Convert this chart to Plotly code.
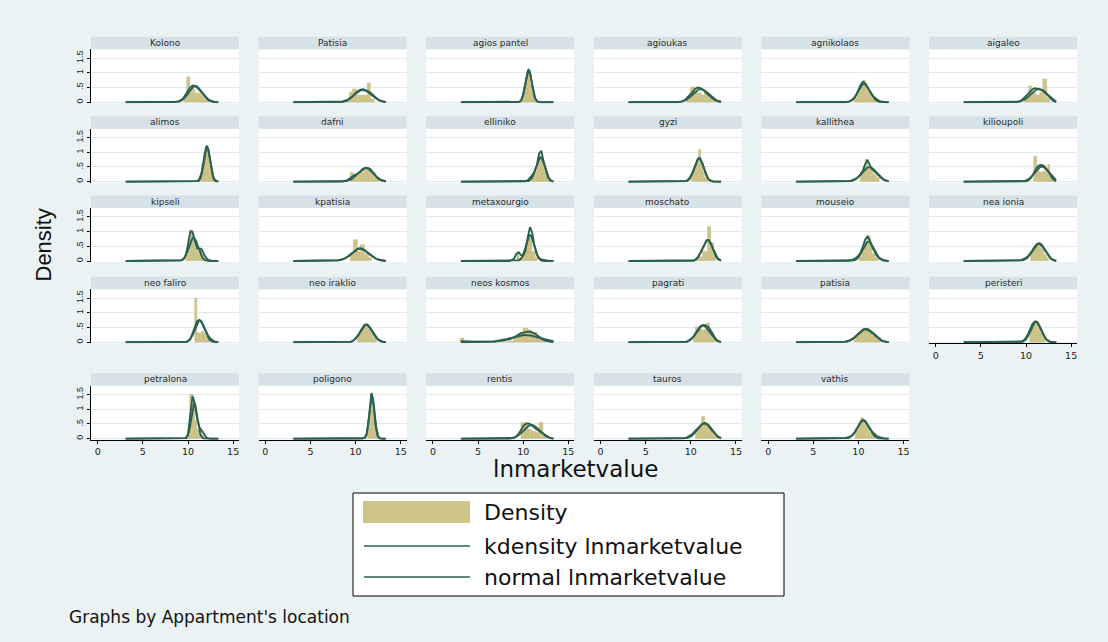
import numpy as np
import plotly.graph_objects as go

# ---------------------------------------------------------------- data
locations = [
    "Kolono", "Patisia", "agios pantel", "agioukas", "agnikolaos", "aigaleo",
    "alimos", "dafni", "elliniko", "gyzi", "kallithea", "kilioupoli",
    "kipseli", "kpatisia", "metaxourgio", "moschato", "mouseio", "nea ionia",
    "neo faliro", "neo iraklio", "neos kosmos", "pagrati", "patisia", "peristeri",
    "petralona", "poligono", "rentis", "tauros", "vathis",
]

# evaluation points of the kernel density estimate (lnmarketvalue)
kde_x = [3.1, 5.0, 7.0, 8.0, 8.5, 9.0, 9.25, 9.5, 9.75, 10.0, 10.25, 10.5,
         10.75, 11.0, 11.25, 11.5, 11.75, 12.0, 12.25, 12.5, 12.75, 13.0, 13.35]

kde_density = [
    [0, 0, 0, 0, 0.01, 0.04, 0.08, 0.15, 0.26, 0.40, 0.51, 0.57, 0.56, 0.50, 0.42, 0.33, 0.24, 0.16, 0.10, 0.06, 0.03, 0.01, 0],
    [0, 0, 0, 0, 0.01, 0.05, 0.09, 0.15, 0.23, 0.31, 0.38, 0.42, 0.44, 0.43, 0.40, 0.36, 0.30, 0.22, 0.15, 0.09, 0.05, 0.02, 0],
    [0, 0, 0, 0, 0, 0, 0, 0.01, 0.05, 0.25, 0.65, 1.05, 1.00, 0.55, 0.18, 0.04, 0.01, 0, 0, 0, 0, 0, 0],
    [0, 0, 0, 0, 0, 0.03, 0.06, 0.12, 0.20, 0.30, 0.39, 0.46, 0.50, 0.49, 0.45, 0.39, 0.32, 0.24, 0.17, 0.11, 0.06, 0.03, 0.01],
    [0, 0, 0, 0, 0, 0.03, 0.06, 0.12, 0.24, 0.42, 0.60, 0.70, 0.65, 0.52, 0.38, 0.26, 0.17, 0.10, 0.06, 0.03, 0.01, 0, 0],
    [0, 0, 0, 0, 0, 0.01, 0.03, 0.07, 0.14, 0.22, 0.30, 0.38, 0.45, 0.48, 0.47, 0.44, 0.42, 0.38, 0.30, 0.21, 0.12, 0.05, 0.01],
    [0, 0, 0, 0, 0, 0, 0, 0, 0, 0, 0, 0, 0, 0.02, 0.08, 0.30, 0.75, 1.18, 1.10, 0.60, 0.20, 0.05, 0],
    [0, 0, 0, 0, 0, 0.04, 0.08, 0.14, 0.20, 0.24, 0.27, 0.32, 0.39, 0.45, 0.47, 0.45, 0.38, 0.28, 0.18, 0.10, 0.05, 0.02, 0],
    [0, 0, 0, 0, 0, 0, 0, 0, 0, 0, 0.01, 0.05, 0.12, 0.22, 0.35, 0.55, 0.95, 1.05, 0.70, 0.38, 0.15, 0.04, 0],
    [0, 0, 0, 0, 0, 0, 0, 0.02, 0.08, 0.20, 0.37, 0.58, 0.76, 0.80, 0.66, 0.42, 0.20, 0.07, 0.02, 0, 0, 0, 0],
    [0, 0, 0, 0, 0, 0.02, 0.04, 0.07, 0.11, 0.17, 0.25, 0.38, 0.60, 0.74, 0.55, 0.42, 0.36, 0.28, 0.20, 0.13, 0.08, 0.04, 0.01],
    [0, 0, 0, 0, 0, 0, 0, 0, 0, 0.01, 0.04, 0.11, 0.23, 0.38, 0.50, 0.56, 0.57, 0.53, 0.45, 0.34, 0.20, 0.08, 0.01],
    [0, 0, 0, 0, 0, 0.01, 0.02, 0.06, 0.20, 0.55, 1.00, 0.98, 0.70, 0.42, 0.42, 0.40, 0.24, 0.10, 0.04, 0.01, 0, 0, 0],
    [0, 0, 0, 0.02, 0.05, 0.11, 0.16, 0.23, 0.30, 0.37, 0.42, 0.43, 0.41, 0.36, 0.30, 0.23, 0.17, 0.12, 0.08, 0.05, 0.03, 0.01, 0],
    [0, 0, 0, 0, 0, 0.08, 0.25, 0.30, 0.20, 0.18, 0.35, 0.80, 1.15, 0.95, 0.50, 0.22, 0.10, 0.05, 0.03, 0.02, 0.01, 0, 0],
    [0, 0, 0, 0, 0, 0, 0, 0, 0, 0, 0.01, 0.04, 0.12, 0.25, 0.40, 0.57, 0.70, 0.71, 0.58, 0.38, 0.18, 0.06, 0.01],
    [0, 0, 0, 0, 0, 0.01, 0.03, 0.06, 0.11, 0.18, 0.30, 0.50, 0.72, 0.83, 0.72, 0.50, 0.33, 0.20, 0.12, 0.07, 0.04, 0.02, 0],
    [0, 0, 0, 0, 0, 0.01, 0.02, 0.04, 0.07, 0.11, 0.17, 0.26, 0.38, 0.50, 0.58, 0.60, 0.55, 0.43, 0.30, 0.18, 0.09, 0.03, 0],
    [0, 0, 0, 0, 0, 0, 0, 0, 0.01, 0.04, 0.12, 0.30, 0.55, 0.72, 0.76, 0.68, 0.52, 0.36, 0.22, 0.12, 0.06, 0.02, 0],
    [0, 0, 0, 0, 0, 0, 0, 0.02, 0.06, 0.13, 0.23, 0.36, 0.50, 0.60, 0.60, 0.52, 0.40, 0.27, 0.17, 0.09, 0.05, 0.02, 0],
    [0.04, 0.02, 0.03, 0.06, 0.10, 0.17, 0.22, 0.27, 0.31, 0.33, 0.35, 0.36, 0.36, 0.34, 0.30, 0.25, 0.19, 0.13, 0.08, 0.05, 0.03, 0.01, 0],
    [0, 0, 0, 0, 0, 0, 0, 0.02, 0.05, 0.10, 0.18, 0.30, 0.44, 0.53, 0.58, 0.59, 0.56, 0.50, 0.38, 0.24, 0.12, 0.05, 0.01],
    [0, 0, 0, 0, 0.02, 0.06, 0.10, 0.15, 0.22, 0.30, 0.37, 0.43, 0.45, 0.43, 0.38, 0.31, 0.24, 0.17, 0.11, 0.06, 0.03, 0.01, 0],
    [0, 0, 0, 0, 0, 0, 0, 0.02, 0.07, 0.16, 0.30, 0.48, 0.64, 0.70, 0.67, 0.54, 0.37, 0.21, 0.10, 0.04, 0.01, 0, 0],
    [0, 0, 0, 0, 0, 0, 0, 0, 0.02, 0.15, 0.75, 1.45, 1.20, 0.70, 0.40, 0.30, 0.18, 0.05, 0.01, 0, 0, 0, 0],
    [0, 0, 0, 0, 0, 0, 0, 0, 0, 0, 0, 0, 0, 0.03, 0.20, 0.80, 1.55, 1.20, 0.45, 0.08, 0.01, 0, 0],
    [0, 0, 0, 0, 0, 0.03, 0.08, 0.17, 0.30, 0.42, 0.50, 0.52, 0.50, 0.45, 0.38, 0.31, 0.26, 0.22, 0.17, 0.11, 0.06, 0.02, 0],
    [0, 0, 0, 0, 0, 0, 0.01, 0.03, 0.07, 0.12, 0.19, 0.27, 0.36, 0.44, 0.50, 0.53, 0.51, 0.45, 0.35, 0.24, 0.14, 0.06, 0.01],
    [0, 0, 0, 0.01, 0.02, 0.06, 0.10, 0.17, 0.28, 0.42, 0.56, 0.63, 0.60, 0.50, 0.37, 0.25, 0.16, 0.10, 0.06, 0.03, 0.02, 0.01, 0],
]

# mean and standard deviation of lnmarketvalue per location (normal overlay)
normal_mean = [10.8, 10.8, 10.6, 11.1, 10.6, 11.4, 12.1, 11.1, 11.9, 10.9,
               11.2, 11.75, 10.6, 10.5, 10.75, 11.85, 11.1, 11.4, 11.3, 11.2,
               10.2, 11.35, 10.85, 11.1, 10.7, 11.8, 10.9, 11.5, 10.5]
normal_sd = [0.72, 0.95, 0.36, 0.88, 0.64, 0.88, 0.33, 0.85, 0.48, 0.50,
             0.80, 0.77, 0.50, 0.95, 0.45, 0.56, 0.60, 0.68, 0.53, 0.66,
             1.60, 0.70, 0.88, 0.56, 0.33, 0.27, 0.85, 0.76, 0.63]

# histogram: first bin edge, bin width and bar heights per location
hist_start = [9.6, 8.9, 9.8, 9.6, 9.6, 9.9, 11.4, 9.4, 11.0, 10.1,
              10.2, 10.9, 9.8, 9.4, 9.3, 10.7, 10.1, 10.5, 10.75, 10.2,
              3.0, 10.3, 9.6, 10.4, 10.0, 11.3, 9.8, 10.5, 9.7]
hist_width = [0.3, 0.4, 0.2, 0.4, 0.3, 0.4, 0.2, 0.4, 0.25, 0.25,
              0.3, 0.3, 0.25, 0.4, 0.25, 0.3, 0.3, 0.3, 0.25, 0.3,
              0.5, 0.3, 0.4, 0.25, 0.25, 0.2, 0.4, 0.35, 0.3]
hist_heights = [
    [0.15, 0.85, 0.35, 0.45, 0.3, 0.3, 0.25, 0.2, 0.1],
    [0.05, 0.35, 0.45, 0.25, 0.25, 0.25, 0.65, 0.1],
    [0.1, 0.3, 0.8, 1.0, 0.95, 0.6, 0.3, 0.1],
    [0.2, 0.5, 0.35, 0.3, 0.25, 0.3, 0.15, 0.1],
    [0.15, 0.35, 0.5, 0.76, 0.55, 0.35, 0.2, 0.1],
    [0.15, 0.55, 0.3, 0.25, 0.35, 0.77, 0.15],
    [0.2, 0.6, 1.0, 1.15, 0.9, 0.6, 0.3, 0.1],
    [0.3, 0.25, 0.25, 0.3, 0.45, 0.45, 0.3, 0.15],
    [0.2, 0.35, 0.6, 0.9, 0.8, 0.5, 0.25, 0.1],
    [0.2, 0.4, 0.6, 1.08, 0.65, 0.35, 0.15],
    [0.3, 0.5, 0.75, 0.45, 0.35, 0.25, 0.15],
    [0.85, 0.35, 0.3, 0.35, 0.45, 0.57, 0.2],
    [0.2, 0.7, 1.05, 0.75, 0.4, 0.35, 0.45, 0.2, 0.05],
    [0.2, 0.72, 0.3, 0.55, 0.25, 0.1],
    [0.25, 0.1, 0.1, 0.3, 0.65, 0.9, 0.75, 0.3, 0.1],
    [0.1, 0.15, 0.35, 0.3, 1.17, 0.6, 0.2],
    [0.15, 0.3, 0.6, 0.85, 0.5, 0.25, 0.1],
    [0.3, 0.45, 0.55, 0.6, 0.4, 0.2, 0.1],
    [1.49, 0.3, 0.3, 0.36, 0.3, 0.2, 0.1],
    [0.25, 0.45, 0.55, 0.6, 0.45, 0.3, 0.15],
    [0.12, 0, 0, 0, 0, 0, 0, 0, 0, 0.04, 0, 0.04, 0.2, 0.3, 0.48, 0.4, 0.35, 0.2, 0.1],
    [0.25, 0.5, 0.45, 0.4, 0.45, 0.63, 0.3, 0.1],
    [0.2, 0.35, 0.45, 0.48, 0.35, 0.2, 0.1],
    [0.35, 0.55, 0.7, 0.65, 0.5, 0.3, 0.15],
    [0.3, 1.5, 1.1, 0.6, 0.3, 0.3, 0.1],
    [0.3, 0.9, 1.3, 1.1, 0.6, 0.2],
    [0.55, 0.55, 0.3, 0.25, 0.2, 0.55, 0.1],
    [0.3, 0.4, 0.75, 0.5, 0.4, 0.25, 0.1],
    [0.3, 0.5, 0.7, 0.6, 0.4, 0.2, 0.1],
]

y_ticks = [0, 0.5, 1, 1.5]
y_tick_text = ["0", ".5", "1", "1.5"]
x_ticks = [0, 5, 10, 15]

# ---------------------------------------------------------------- styling / geometry
W, H = 1108, 642
BG = "#eaf2f3"
STRIP = "#d6e2e8"
GRID = "#e3eaed"
BAR = "#cfc48a"
BAR_EDGE = "#c3b87c"
LINE = "#2c6150"

COL_LEFT = [91, 258.6, 426.2, 593.8, 761.4, 929]
PANEL_W = 148
ROW_ZERO = [102.3, 181.7, 261.0, 342.3, 438.7]
PANEL_H = 53
STRIP_H = 12.5
X_RANGE = [-0.75, 15.65]
Y_RANGE = [-1 / 29.4, 1.8]
NCOL = 6


def fx(p):
    return p / W


def fy(p):
    return 1 - p / H


grid_x = np.linspace(kde_x[0], kde_x[-1], 300)

fig = go.Figure()
shapes = []
annotations = []
layout_axes = {}
n_panels = len(locations)

for i, name in enumerate(locations):
    row, col = divmod(i, NCOL)
    n = i + 1
    xa = "x" if n == 1 else f"x{n}"
    ya = "y" if n == 1 else f"y{n}"
    left = COL_LEFT[col]
    right = left + PANEL_W
    zero = ROW_ZERO[row]
    top = zero - PANEL_H

    # histogram bars
    heights = hist_heights[i]
    w = hist_width[i]
    centers = [hist_start[i] + w * (k + 0.5) for k in range(len(heights))]
    fig.add_trace(go.Bar(
        x=centers, y=heights, width=[w] * len(heights),
        marker=dict(color=BAR, line=dict(color=BAR_EDGE, width=0.5)),
        xaxis=xa, yaxis=ya, showlegend=False, hoverinfo="skip"))

    # kernel density
    fig.add_trace(go.Scatter(
        x=kde_x, y=kde_density[i], mode="lines",
        line=dict(color=LINE, width=1.9),
        xaxis=xa, yaxis=ya, showlegend=False, hoverinfo="skip"))

    # normal density with the location's mean and sd
    mu, sd = normal_mean[i], normal_sd[i]
    norm_y = np.exp(-0.5 * ((grid_x - mu) / sd) ** 2) / (sd * np.sqrt(2 * np.pi))
    fig.add_trace(go.Scatter(
        x=grid_x, y=norm_y, mode="lines",
        line=dict(color=LINE, width=1.9),
        xaxis=xa, yaxis=ya, showlegend=False, hoverinfo="skip"))

    has_xaxis = i + NCOL >= n_panels
    xkey = "xaxis" if n == 1 else f"xaxis{n}"
    ykey = "yaxis" if n == 1 else f"yaxis{n}"
    xaxis = dict(domain=[fx(left), fx(right)], range=X_RANGE, anchor=ya,
                 showgrid=False, zeroline=False, fixedrange=True)
    if has_xaxis:
        xaxis.update(showline=True, linecolor="#000000", linewidth=1,
                     ticks="outside", ticklen=3, tickcolor="#000000",
                     tickvals=x_ticks, ticktext=[str(t) for t in x_ticks],
                     tickfont=dict(family="DejaVu Sans", size=9.5, color="#222222"))
    else:
        xaxis.update(showline=False, showticklabels=False, ticks="")
    yaxis = dict(domain=[fy(zero + 1), fy(top)], range=Y_RANGE, anchor=xa,
                 showgrid=True, gridcolor=GRID, gridwidth=1, zeroline=False,
                 tickvals=y_ticks, fixedrange=True)
    if col == 0:
        yaxis.update(showline=True, linecolor="#000000", linewidth=1,
                     ticks="outside", ticklen=3, tickcolor="#000000",
                     ticktext=y_tick_text, tickangle=-90,
                     tickfont=dict(family="Liberation Sans", size=9, color="#222222"))
    else:
        yaxis.update(showline=False, showticklabels=False, ticks="")
    layout_axes[xkey] = xaxis
    layout_axes[ykey] = yaxis

    # subtitle strip
    shapes.append(dict(type="rect", xref="paper", yref="paper",
                       x0=fx(left), x1=fx(right), y0=fy(top), y1=fy(top - STRIP_H),
                       fillcolor=STRIP, line=dict(width=0), layer="below"))
    annotations.append(dict(text=name, xref="paper", yref="paper",
                            x=fx((left + right) / 2), y=fy(top - STRIP_H / 2),
                            showarrow=False, xanchor="center", yanchor="middle",
                            font=dict(family="DejaVu Sans", size=9, color="#2a2a2a")))

# axis titles and note
annotations.append(dict(text="Density", xref="paper", yref="paper",
                        x=fx(42.5), y=fy(245), textangle=-90, showarrow=False,
                        xanchor="center", yanchor="middle",
                        font=dict(family="Liberation Sans", size=22, color="#111111")))
annotations.append(dict(text="lnmarketvalue", xref="paper", yref="paper",
                        x=fx(575), y=fy(469), showarrow=False,
                        xanchor="center", yanchor="middle",
                        font=dict(family="DejaVu Sans", size=23, color="#111111")))
annotations.append(dict(text="Graphs by Appartment's location", xref="paper", yref="paper",
                        x=fx(67), y=fy(617), showarrow=False,
                        xanchor="left", yanchor="middle",
                        font=dict(family="DejaVu Sans", size=17, color="#111111")))

# legend box
shapes.append(dict(type="rect", xref="paper", yref="paper",
                   x0=fx(353), x1=fx(784), y0=fy(596), y1=fy(493),
                   fillcolor="#ffffff", line=dict(color="#000000", width=1)))
shapes.append(dict(type="rect", xref="paper", yref="paper",
                   x0=fx(363), x1=fx(470), y0=fy(523), y1=fy(501),
                   fillcolor=BAR, line=dict(width=0)))
for ypix in (546, 577):
    shapes.append(dict(type="line", xref="paper", yref="paper",
                       x0=fx(364), x1=fx(470), y0=fy(ypix), y1=fy(ypix),
                       line=dict(color=LINE, width=1.6)))
for label, ypix in (("Density", 512), ("kdensity lnmarketvalue", 546),
                    ("normal lnmarketvalue", 577)):
    annotations.append(dict(text=label, xref="paper", yref="paper",
                            x=fx(482), y=fy(ypix), showarrow=False,
                            xanchor="left", yanchor="middle",
                            font=dict(family="DejaVu Sans", size=22, color="#111111")))

fig.update_layout(
    width=W, height=H, margin=dict(l=0, r=0, t=0, b=0),
    paper_bgcolor=BG, plot_bgcolor="#ffffff",
    showlegend=False, bargap=0,
    shapes=shapes, annotations=annotations,
    **layout_axes,
)

fig.write_html("out.html")
